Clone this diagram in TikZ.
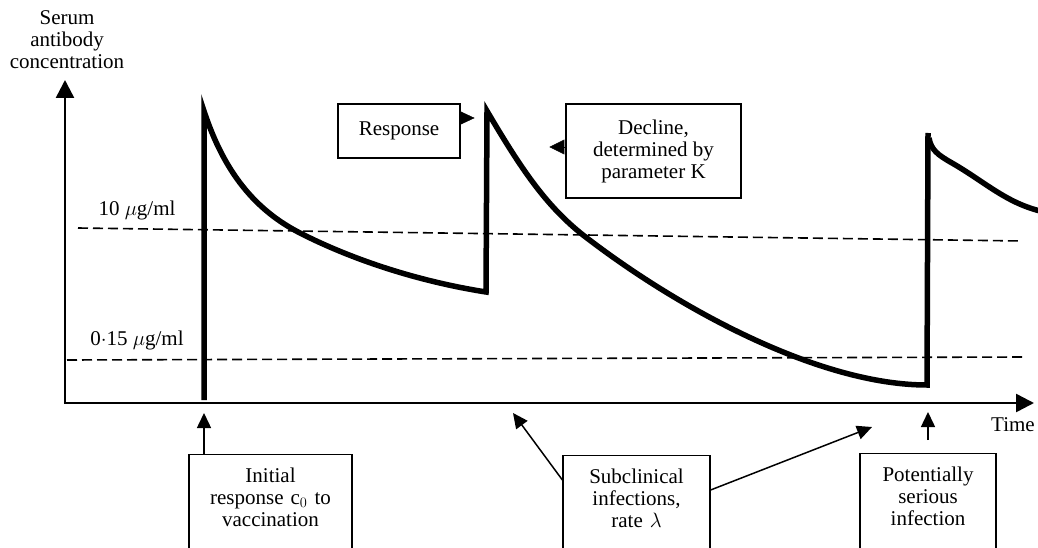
\documentclass[tikz,border=0pt]{standalone}
\usepackage{fontspec}
\setmainfont{Liberation Serif}
\usepackage{tikz}
\usetikzlibrary{arrows.meta}
\newcommand{\deepstrut}{\rule[-30pt]{0pt}{1pt}}

\begin{document}
\begin{tikzpicture}[x=1pt,y=-1pt,
    txt/.style={font=\fontsize{21}{22}\selectfont,inner sep=0pt,align=center},
    box/.style={txt,draw,line width=1.2pt},
    lowbox/.style={box,anchor=north,inner ysep=13pt},
    axis/.style={line width=2.5pt,-{Triangle[length=18pt,width=18pt]}},
    pointer/.style={line width=1.5pt,-{Triangle[length=15pt,width=14pt]}},
    level/.style={line width=1.6pt,dash pattern=on 10pt off 5pt},
    conc/.style={line width=5.5pt,line join=miter}]
  \useasboundingbox (0,0) rectangle (1038,548);
  % axes
  \coordinate (O) at (65,403);
  \coordinate (ytip) at (65,80);
  \coordinate (xtip) at (1034,403);
  \draw[axis] (O) -- (ytip);
  \draw[axis] ([xshift=-1.25pt]O) -- (xtip);
  \node[txt] (ylab) at (67,40) {Serum\\antibody\\concentration};
  \node[txt] (tlab) at (1013,425) {Time};
  % threshold levels
  \draw[level] (78,228) -- (1022,241);
  \draw[level] (67,360) -- (1022,357);
  \node[txt] (hilab) at (137,210) {10 $\mu$g/ml};
  \node[txt] (lolab) at (137,340) {0$\cdot$15 $\mu$g/ml};
  % antibody concentration
  \coordinate (vacc) at (204,400);
  \draw[conc] (vacc) -- (204,111) .. controls (224,172) and (255,210) .. (300,233)
    .. controls (345,256) and (410,280) .. (486,292)
    -- (487,111) .. controls (520,167) and (545,205) .. (583,235)
    .. controls (680,310) and (820,385) .. (927,385) -- (928,133);
  \draw[conc] (929,138) .. controls (931,150) and (938,155) .. (952,163)
    .. controls (985,182) and (1005,202) .. (1040,211);
  % labels on top
  \node[box,minimum width=122pt,minimum height=54pt] (resp) at (399,131) {Response};
  \node[box,minimum width=175pt,minimum height=94pt] (decl) at (653.5,151)
    {Decline,\\determined by\\parameter K};
  \draw[-{Triangle[length=14pt,width=13pt]}] ([yshift=13pt]resp.east) -- ++(14,0);
  \draw[-{Triangle[length=15pt,width=15pt]}] ([yshift=4pt]decl.west) -- ++(-16,0);
  % labels below
  \node[lowbox,text width=163pt] (init) at (270.5,454)
    {Initial\\response c$_0$ to\\vaccination\deepstrut};
  \node[lowbox,text width=147pt] (sub) at (636.5,455)
    {Subclinical\\infections,\\rate $\lambda$\deepstrut};
  \node[lowbox,text width=136pt] (pot) at (928,453)
    {Potentially\\serious\\infection\deepstrut};
  \coordinate (infA) at (513,413);
  \coordinate (infB) at (872,427);
  \coordinate (serious) at (928,412);
  \draw[pointer] (init.north -| vacc) -- ++(0,-41);
  \draw[pointer] ([yshift=-25pt]sub.north west) -- (infA);
  \draw[pointer] ([yshift=-35pt]sub.north east) -- (infB);
  \draw[pointer] ([yshift=13pt]pot.north) -- (serious);
\end{tikzpicture}
\end{document}
